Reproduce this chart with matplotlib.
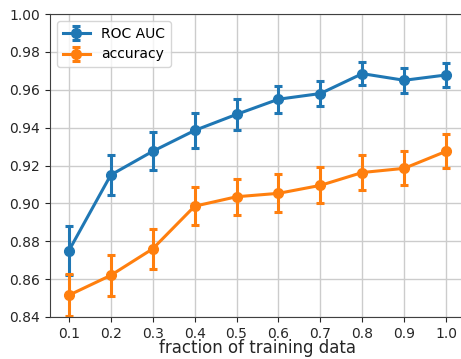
import numpy as np
import matplotlib
matplotlib.use("Agg")
import matplotlib.pyplot as plt

# fraction of training data used
fractions = [0.1, 0.2, 0.3, 0.4, 0.5, 0.6, 0.7, 0.8, 0.9, 1.0]

# ROC AUC mean and error
roc_auc = [0.875, 0.915, 0.9275, 0.9385, 0.947, 0.955, 0.958, 0.9685, 0.965, 0.9678]
roc_err = [0.013, 0.0105, 0.010, 0.009, 0.008, 0.0072, 0.0067, 0.006, 0.0065, 0.0065]

# accuracy mean and error
accuracy = [0.8515, 0.862, 0.876, 0.8985, 0.9035, 0.9053, 0.9095, 0.9163, 0.9185, 0.9275]
acc_err = [0.011, 0.011, 0.0105, 0.010, 0.0095, 0.0100, 0.0095, 0.0095, 0.009, 0.009]

fig = plt.figure(figsize=(4.61, 3.59), dpi=100)
ax = fig.add_axes([50 / 461, 1 - 317 / 359, 415 / 461, 303 / 359])

style = dict(marker='o', markersize=7, linewidth=2.2, capsize=3, capthick=2.2, elinewidth=2.2)
ax.errorbar(fractions, roc_auc, yerr=roc_err, color='#1f77b4', label='ROC AUC', **style)
ax.errorbar(fractions, accuracy, yerr=acc_err, color='#ff7f0e', label='accuracy', **style)

ax.set_ylim(0.84, 1.00)
ax.set_xlim(0.055, 1.045)
ax.set_xticks(fractions)
ax.set_yticks(np.arange(0.84, 1.001, 0.02))
ax.yaxis.set_major_formatter(matplotlib.ticker.FormatStrFormatter('%.2f'))
ax.tick_params(labelsize=10, colors='#262626')
ax.grid(True, color='#cccccc', linewidth=1)
ax.set_axisbelow(True)
for s in ax.spines.values():
    s.set_color('#404040')
ax.set_xlabel('fraction of training data', fontsize=12, color='#262626', labelpad=-1)
ax.legend(loc='upper left', fontsize=10)

fig.savefig('out.png', dpi=100)
